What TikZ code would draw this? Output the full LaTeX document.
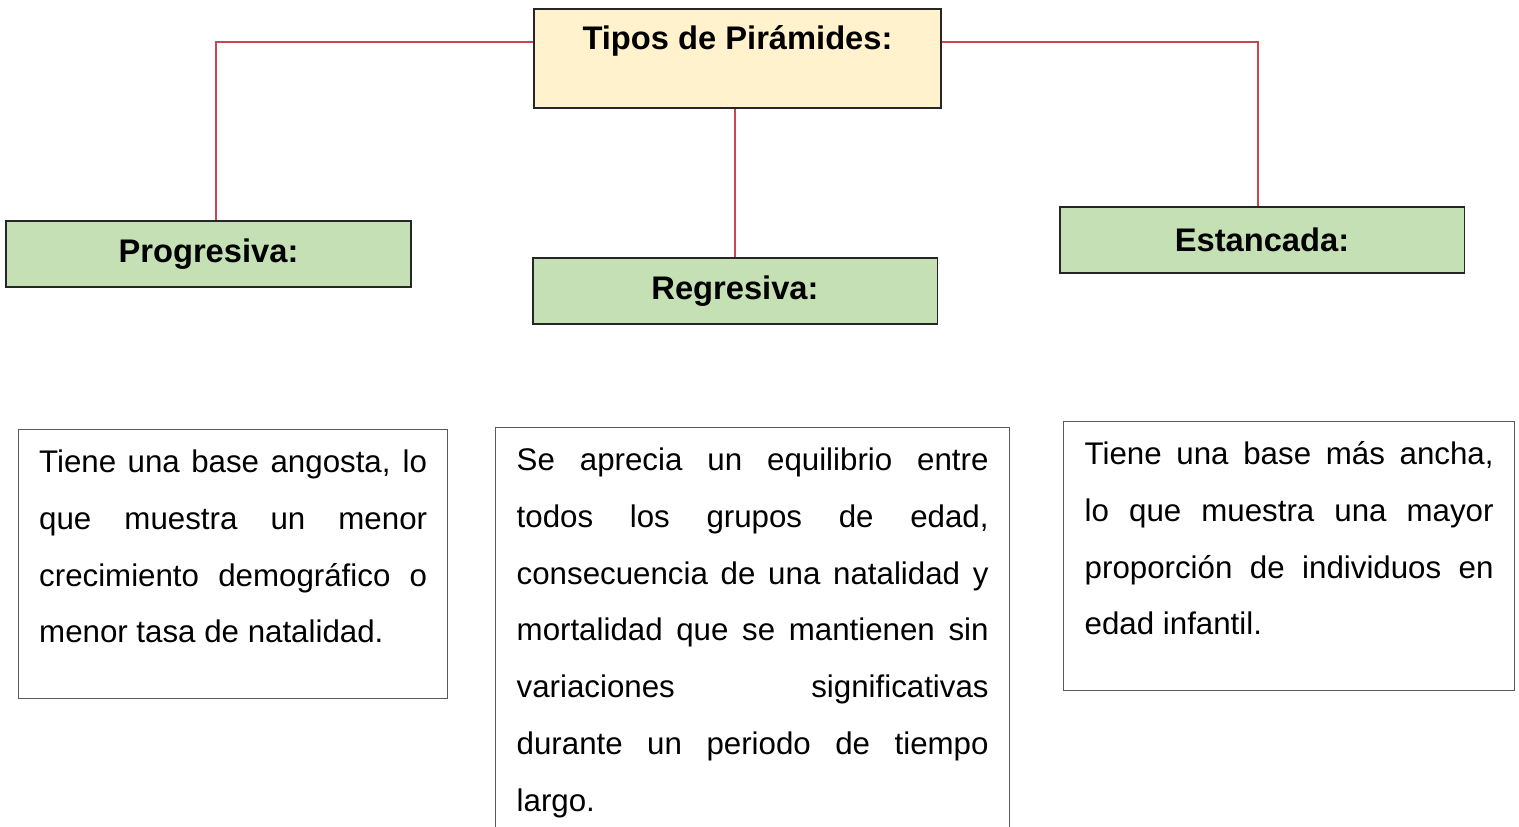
\documentclass[tikz,border=0pt]{standalone}
\usepackage{fontspec}
\setmainfont{Liberation Sans}
\definecolor{crema}{RGB}{255,242,204}
\definecolor{verde}{RGB}{197,224,180}
\definecolor{rojo}{RGB}{200,70,80}
\definecolor{borde}{RGB}{90,90,90}

\begin{document}
\begin{tikzpicture}[x=0.02cm,y=-0.02cm,
	titulo/.style={draw=black!85,line width=1.1pt,fill=crema,minimum width=8.14cm,inner sep=0pt,text height=0.82cm,text depth=1.16cm,font=\fontsize{18.6}{22}\selectfont\bfseries},
	tipo/.style={draw=black!85,line width=1.1pt,fill=verde,minimum width=8.1cm,minimum height=1.32cm,inner sep=0pt,font=\fontsize{18.6}{22}\selectfont\bfseries},
	texto/.style={draw=borde,line width=0.8pt,anchor=north west,align=justify,inner xsep=0.42cm,inner ysep=0.36cm,text height=0.5cm,font=\fontsize{17.8}{32.3}\selectfont},
	enlace/.style={draw=rojo,line width=0.8pt}]
				\useasboundingbox (0,0) rectangle (1519,827);
				\clip (0,0) rectangle (1519,827);
				\node[titulo] (tipos) at (737.5,58.5) {Tipos de Pirámides:};
				\node[tipo] (prog) at (208.5,254) {Progresiva:};
				\node[tipo] (reg) at (735,291) {Regresiva:};
				\node[tipo] (est) at (1262,240) {Estancada:};
				\draw[enlace] ([yshift=0.33cm]tipos.west) -| ([xshift=0.15cm]prog.north);
				\draw[enlace] ([yshift=0.33cm]tipos.east) -| ([xshift=-0.08cm]est.north);
				\draw[enlace] (tipos.south -| reg.north) -- (reg.north);
				\node[texto,text width=7.76cm,text depth=4.16cm,inner xsep=0.41cm] (dprog) at (18,429) {Tiene una base angosta, lo\linebreak que muestra un menor\linebreak crecimiento demográfico o\linebreak menor tasa de natalidad.};
				\node[texto,text width=9.44cm,text depth=7.44cm] (dreg) at (495,427) {Se aprecia un equilibrio entre\linebreak todos los grupos de edad,\linebreak consecuencia de una natalidad y\linebreak mortalidad que se mantienen sin\linebreak variaciones significativas\linebreak durante un periodo de tiempo\linebreak largo.};
				\node[texto,text width=8.18cm,text depth=4.16cm] (dest) at (1063,421) {Tiene una base más ancha,\linebreak lo que muestra una mayor\linebreak proporción de individuos en\linebreak edad infantil.};
			\end{tikzpicture}
\end{document}
